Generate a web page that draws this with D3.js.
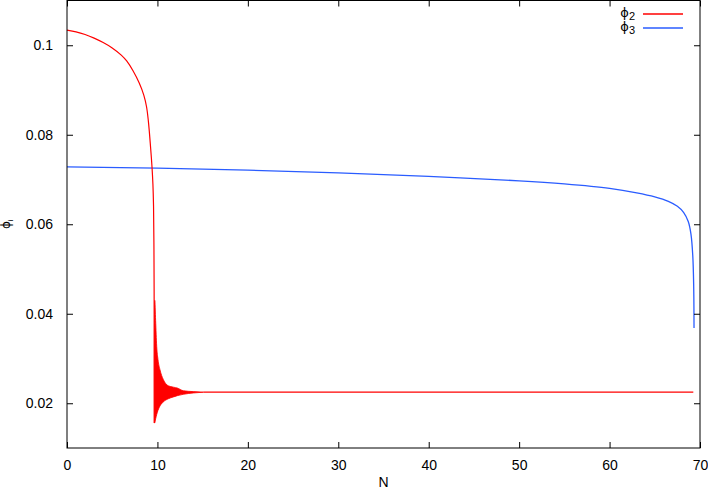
<!DOCTYPE html>
<html>
<head>
<meta charset="utf-8">
<script src="https://cdn.jsdelivr.net/npm/d3@7"></script>
<style>
  body { margin: 0; background: #fff; }
  svg { display: block; font-family: "Liberation Sans", Arial, sans-serif; }
  .axis text { font-size: 14px; fill: #000; }
</style>
</head>
<body>
<svg id="chart" width="708" height="495"></svg>
<script>
// values
var xTicks = [0, 10, 20, 30, 40, 50, 60, 70];
var yTicks = [0.02, 0.04, 0.06, 0.08, 0.1];

// phi_2 before the collapse
var phi2N = [0, 1, 2, 3, 4, 5, 6, 6.6, 7.3, 8, 8.5, 8.8, 9, 9.1, 9.25, 9.4, 9.5, 9.57, 9.61, 9.635, 9.65];
var phi2V = [0.1034, 0.103, 0.1024, 0.1016, 0.1006, 0.0994, 0.0978, 0.0965, 0.0943, 0.0915, 0.0888, 0.0862, 0.083, 0.0808, 0.077, 0.0728, 0.069, 0.064, 0.056, 0.045, 0.0156];

// phi_2 ringing band (upper and lower envelope)
var bandN = [9.66, 9.7, 9.8, 9.92, 10.06, 10.28, 10.65, 11.2, 11.75, 12.2, 12.86, 13.97, 15.07];
var bandHi = [0.03, 0.043, 0.0385, 0.0327, 0.0298, 0.0275, 0.0253, 0.0239, 0.0236, 0.0234, 0.0228, 0.0226, 0.02247];
var bandLo = [0.0156, 0.0156, 0.0165, 0.0175, 0.0184, 0.0194, 0.0203, 0.021, 0.0214, 0.0217, 0.022, 0.0223, 0.02247];

// phi_2 plateau
var plateauN = [15.07, 69.26];
var plateauV = [0.02247, 0.02247];

// phi_3
var phi3N = [0, 10, 20, 30, 40, 50, 55, 60, 63, 65, 66.5, 67.5, 68.2, 68.7, 69, 69.2, 69.3, 69.34];
var phi3V = [0.0728, 0.07252, 0.0721, 0.0715, 0.0707, 0.0697, 0.069, 0.068, 0.067, 0.0661, 0.0651, 0.064, 0.0626, 0.0606, 0.0578, 0.053, 0.0465, 0.0368];

var red = '#ff0000',
    blue = '#2a5cff';

var mLeft = 67, mRight = 700, mTop = 0.5, mBottom = 448;

var svg = d3.select('#chart');

var x = d3.scaleLinear().domain([0, 70]).range([mLeft, mRight]);
var y = d3.scaleLinear().domain([0.01, 0.11]).range([mBottom, mTop]);

function pts(ns, vs) {
  return ns.map(function(n, i) { return [n, vs[i]]; });
}

var line = d3.line()
  .x(function(d) { return x(d[0]); })
  .y(function(d) { return y(d[1]); })
  .curve(d3.curveCatmullRom.alpha(0.5));

var plot = svg.append('g');

plot.append('path')
  .datum(pts(phi3N, phi3V))
  .attr('d', line)
  .attr('fill', 'none')
  .attr('stroke', blue)
  .attr('stroke-width', 1.3);

plot.append('path')
  .datum(pts(phi2N, phi2V))
  .attr('d', line)
  .attr('fill', 'none')
  .attr('stroke', red)
  .attr('stroke-width', 1.2);

var band = d3.area()
  .x(function(d, i) { return x(bandN[i]); })
  .y0(function(d, i) { return y(bandLo[i]); })
  .y1(function(d, i) { return y(bandHi[i]); })
  .curve(d3.curveMonotoneX);

plot.append('path')
  .datum(bandN)
  .attr('d', band)
  .attr('fill', red)
  .attr('stroke', red)
  .attr('stroke-width', 0.8);

plot.append('path')
  .datum(pts(plateauN, plateauV))
  .attr('d', d3.line().x(function(d) { return x(d[0]); }).y(function(d) { return y(d[1]); }))
  .attr('fill', 'none')
  .attr('stroke', red)
  .attr('stroke-width', 1.2);

// axes: inward ticks, mirrored on top and right
var tl = 6;
svg.append('g').attr('class', 'axis')
  .attr('transform', 'translate(0,' + mBottom + ')')
  .call(d3.axisBottom(x).tickValues(xTicks).tickSize(-tl).tickPadding(tl + 6).tickFormat(d3.format('d')))
  .call(function(g) { g.select('.domain').remove(); });
svg.append('g').attr('class', 'axis')
  .attr('transform', 'translate(0,' + mTop + ')')
  .call(d3.axisTop(x).tickValues(xTicks).tickSize(-tl).tickFormat(''))
  .call(function(g) { g.select('.domain').remove(); });
svg.append('g').attr('class', 'axis')
  .attr('transform', 'translate(' + mLeft + ',0)')
  .call(d3.axisLeft(y).tickValues(yTicks).tickSize(-tl).tickPadding(tl + 8).tickFormat(function(d) { return String(+d.toFixed(2)); }))
  .call(function(g) { g.select('.domain').remove(); });
svg.append('g').attr('class', 'axis')
  .attr('transform', 'translate(' + mRight + ',0)')
  .call(d3.axisRight(y).tickValues(yTicks).tickSize(-tl).tickFormat(''))
  .call(function(g) { g.select('.domain').remove(); });

svg.selectAll('.axis .tick line').attr('stroke', '#000');

svg.append('rect')
  .attr('x', mLeft).attr('y', mTop)
  .attr('width', mRight - mLeft).attr('height', mBottom - mTop)
  .attr('fill', 'none').attr('stroke', '#000').attr('stroke-width', 1);

// axis titles
svg.append('text')
  .attr('x', (mLeft + mRight) / 2).attr('y', 487)
  .attr('text-anchor', 'middle')
  .style('font-size', '14px')
  .text('N');

var yl = svg.append('text')
  .attr('transform', 'translate(10,' + ((mTop + mBottom) / 2) + ') rotate(-90)')
  .attr('text-anchor', 'middle')
  .style('font-size', '12px');
yl.append('tspan').style('font-family', 'DejaVu Sans').text('ϕ');
yl.append('tspan').attr('dy', 3).style('font-size', '8px').text('i');

// legend
var legend = [
  {name: '2', color: red},
  {name: '3', color: blue}
];
var lg = svg.selectAll('.legend').data(legend).enter().append('g')
  .attr('class', 'legend')
  .attr('transform', function(d, i) { return 'translate(0,' + (14 + i * 14) + ')'; });
lg.append('line')
  .attr('x1', 643).attr('x2', 683)
  .attr('stroke', function(d) { return d.color; })
  .attr('stroke-width', 1.3);
var lt = lg.append('text')
  .attr('x', 635).attr('y', 3)
  .attr('text-anchor', 'end')
  .style('font-size', '13px');
lt.append('tspan').style('font-family', 'DejaVu Sans').text('ϕ');
lt.append('tspan').attr('dy', 3).style('font-size', '11px').text(function(d) { return d.name; });
</script>
</body>
</html>
